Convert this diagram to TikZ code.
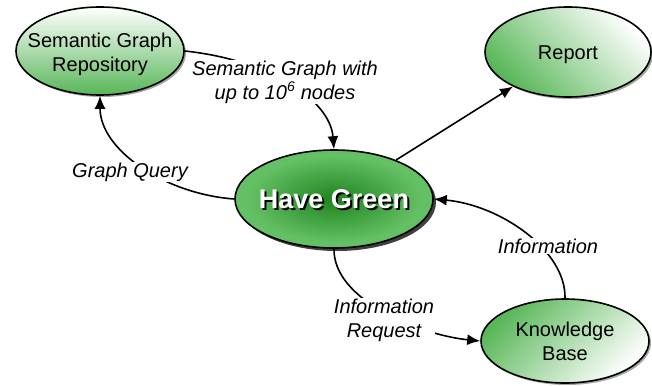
\documentclass[tikz,border=0pt]{standalone}
\usepackage{fontspec}
\setmainfont{Liberation Sans}
\usetikzlibrary{arrows.meta,shapes.geometric,shadows}
\definecolor{gr}{RGB}{88,182,88}
\definecolor{hgdark}{RGB}{30,132,30}
\definecolor{hglight}{RGB}{100,192,100}
\pgfdeclareradialshading{hgshade}{\pgfpoint{0bp}{0bp}}{color(0bp)=(hgdark); color(22bp)=(hglight); color(50bp)=(hglight)}
\tikzset{
  bub/.style={ellipse, draw=black, line width=1.6pt, inner sep=0pt},
  softshadow/.style={drop shadow={shadow xshift=2pt, shadow yshift=-2pt, opacity=.35, fill=black}},
  darkshadow/.style={drop shadow={shadow xshift=3pt, shadow yshift=-3pt, opacity=.75, fill=black}},
  ntext/.style={font=\fontsize{20}{24}\selectfont, align=center, text=black},
  hgtext/.style={font=\fontsize{27}{30}\selectfont\bfseries},
  elab/.style={font=\fontsize{20}{24}\selectfont\itshape, align=center, fill=white, inner sep=1pt},
  conn/.style={line width=1.6pt, -{Latex[length=13pt,width=11pt]}},
}
\begin{document}
\begin{tikzpicture}[x=1pt,y=-1pt]
\useasboundingbox (0,0) rectangle (652,385);
% bubbles
\node[bub, softshadow, minimum width=168pt, minimum height=88pt, top color=white, bottom color=gr,
      label={[ntext,yshift=-3pt]center:Semantic Graph\\Repository}] (repo) at (100,51) {};
\node[bub, softshadow, minimum width=166pt, minimum height=90pt, top color=white, bottom color=gr, shading angle=-45,
      label={[ntext,yshift=-3pt]center:Report}] (report) at (568,52) {};
\node[bub, darkshadow, minimum width=198pt, minimum height=98pt, shading=hgshade,
      label={[hgtext,text=black,xshift=2pt,yshift=-2pt]center:Have Green},
      label={[hgtext,text=white]center:Have Green}] (hg) at (334,199) {};
\node[bub, softshadow, minimum width=168pt, minimum height=84pt, top color=gr, bottom color=white, shading angle=45,
      label={[ntext]center:Knowledge\\Base}] (kb) at (565,341) {};
% connectors
\draw[conn] (repo.east) .. controls (270,60) and (330,100) .. (hg.north)
  node[elab, pos=.47] (sg) {Semantic Graph with\\up to 10\textsuperscript{6} nodes};
\draw[conn] (hg.west) .. controls (165,194) and (100,150) .. (repo.south);
\draw[conn] (hg) -- (report);
\draw[conn] (hg.south) .. controls (333,300) and (420,335) .. (kb.west);
\draw[conn] (kb.north) .. controls (566,250) and (500,205) .. (hg.east);
% labels
\node[elab] (gq) at (130,172) {Graph Query};
\node[elab] (ir) at (384,320) {Information\\Request};
\node[elab] (inf) at (548,246) {Information};
\end{tikzpicture}
\end{document}
